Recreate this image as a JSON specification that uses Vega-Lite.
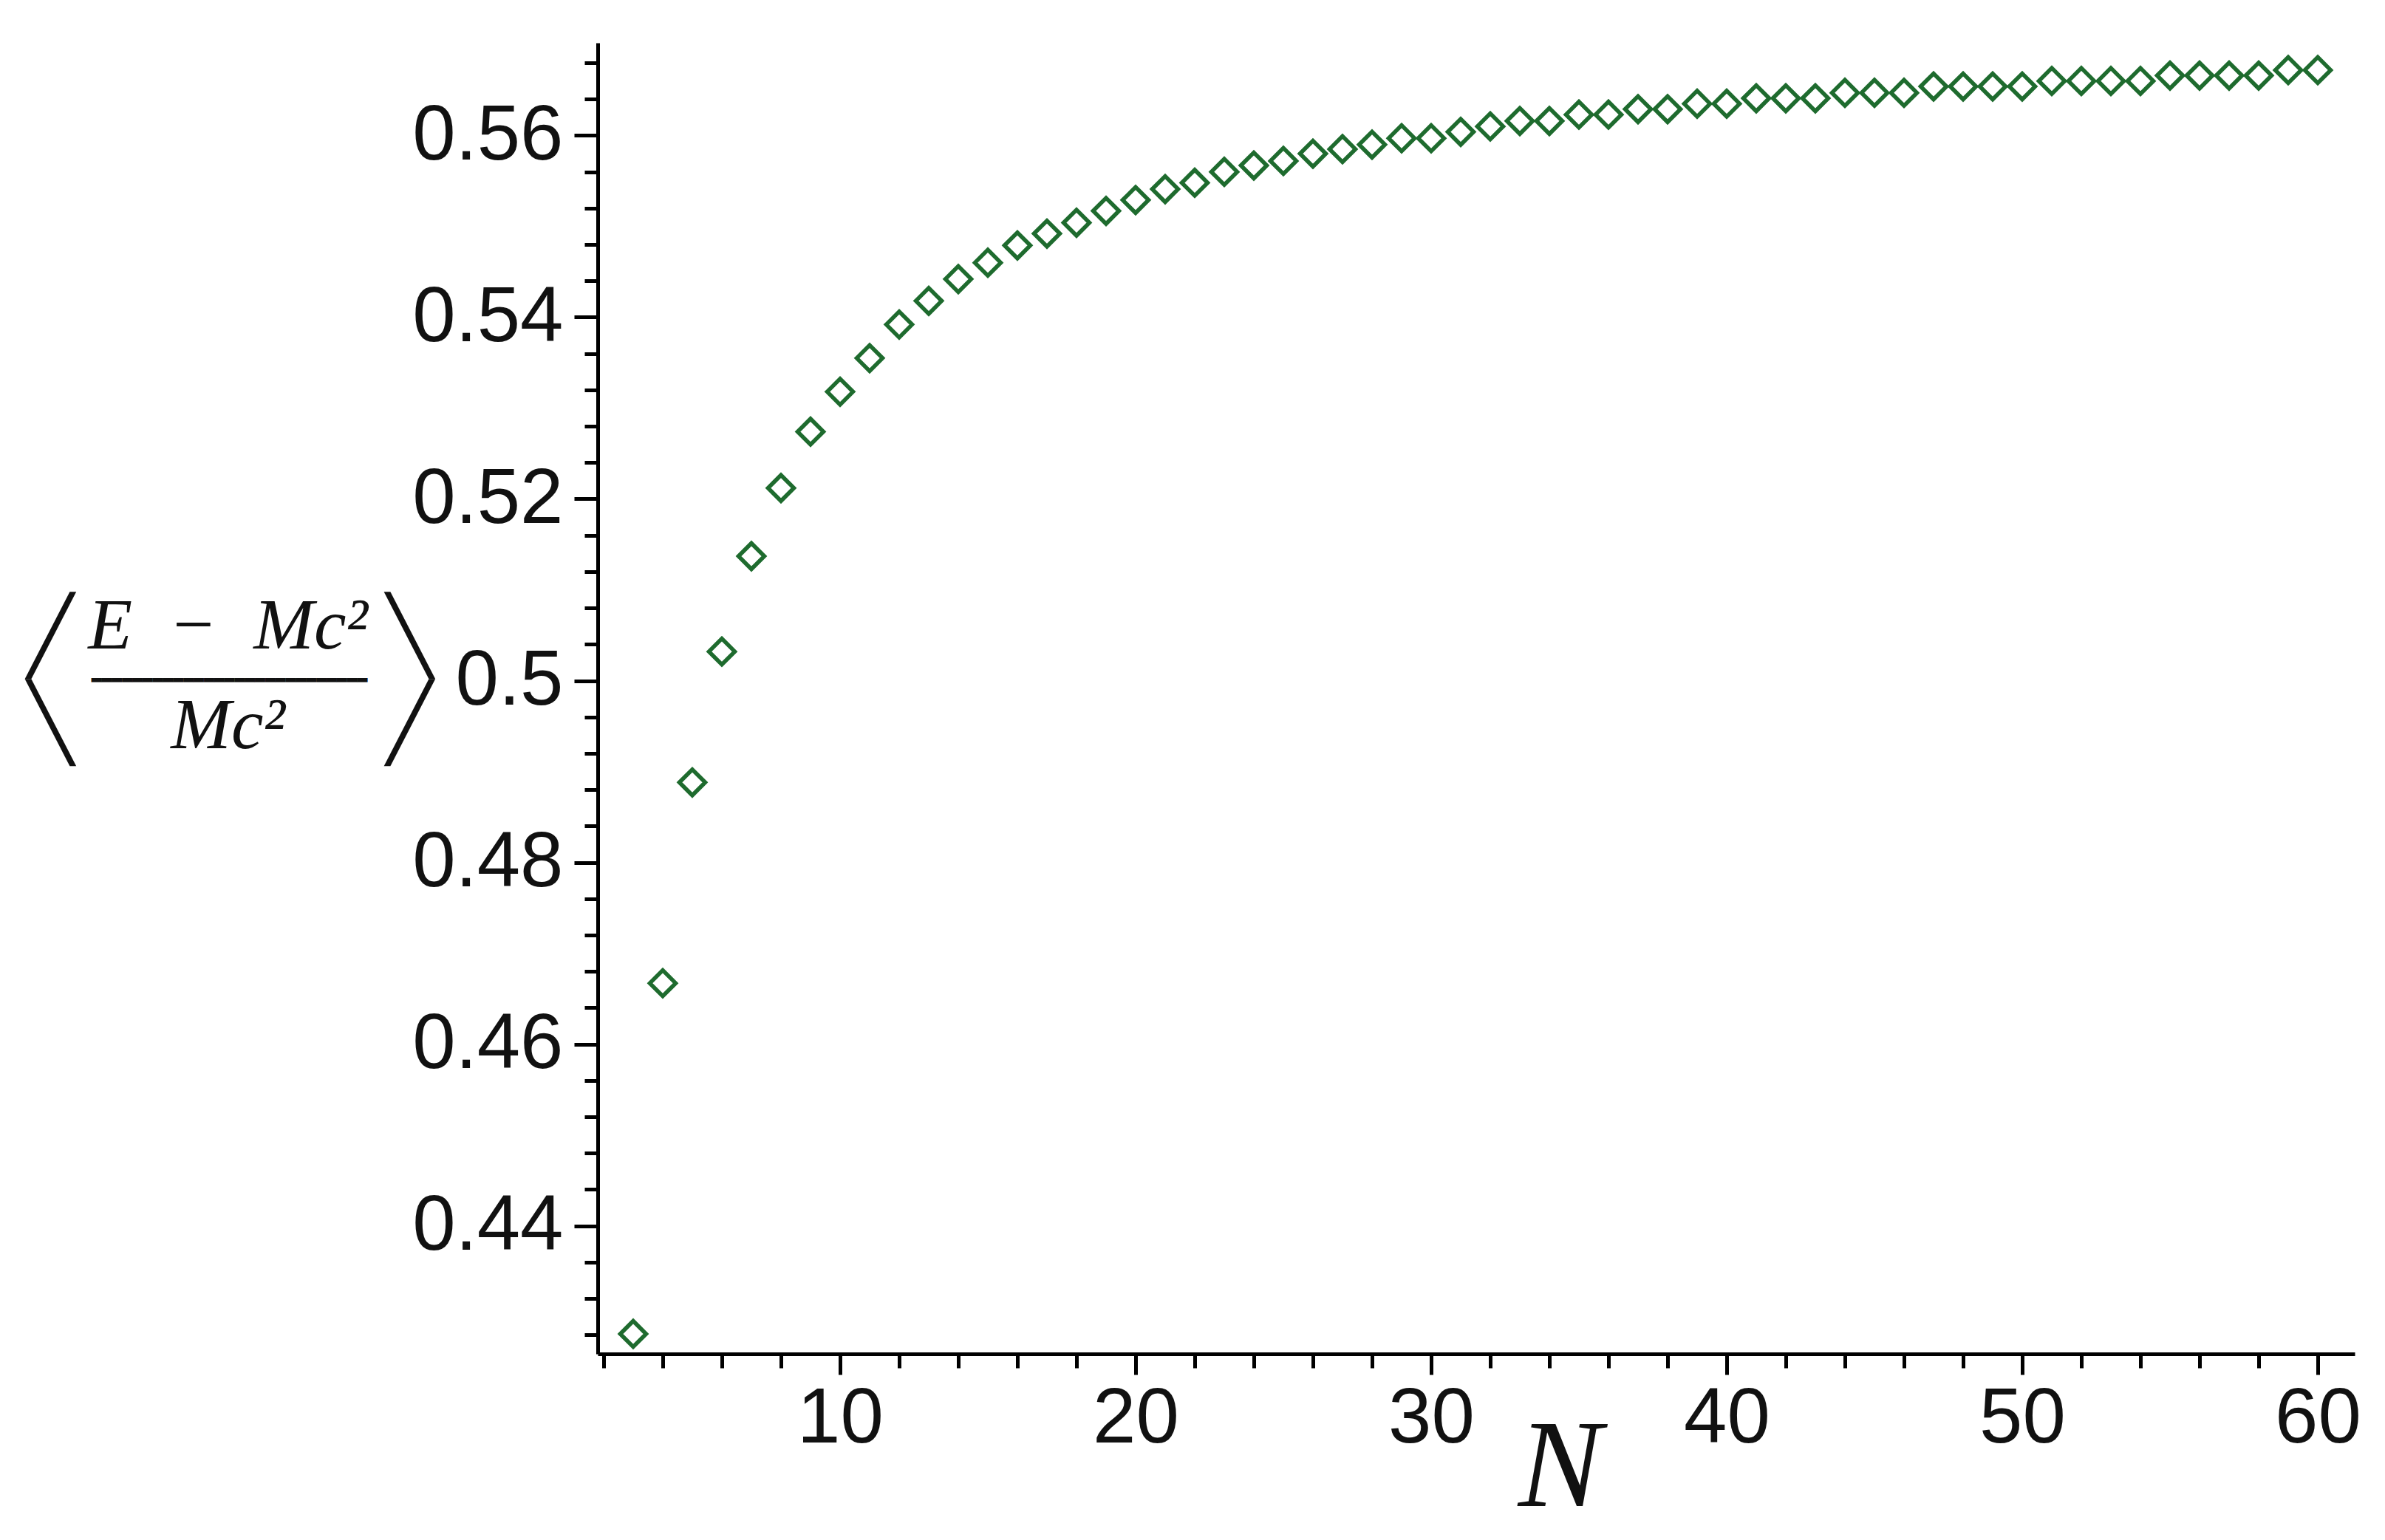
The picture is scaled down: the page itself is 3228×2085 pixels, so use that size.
{
  "$schema": "https://vega.github.io/schema/vega-lite/v6.json",
  "width": 2378,
  "height": 1775,
  "autosize": {"type": "none"},
  "padding": {"left": 809, "top": 58, "right": 41, "bottom": 252},
  "background": "white",
  "config": {"view": {"stroke": null}, "axis": {"grid": false}},
  "data": {"values": [
    {"N": 3, "v": 0.4281}, {"N": 4, "v": 0.4667}, {"N": 5, "v": 0.4888}, {"N": 6, "v": 0.5032},
    {"N": 7, "v": 0.5137}, {"N": 8, "v": 0.5212}, {"N": 9, "v": 0.5274}, {"N": 10, "v": 0.5318},
    {"N": 11, "v": 0.5355}, {"N": 12, "v": 0.5392}, {"N": 13, "v": 0.5418}, {"N": 14, "v": 0.5442},
    {"N": 15, "v": 0.5460}, {"N": 16, "v": 0.5479}, {"N": 17, "v": 0.5492}, {"N": 18, "v": 0.5504},
    {"N": 19, "v": 0.5517}, {"N": 20, "v": 0.5529}, {"N": 21, "v": 0.5541}, {"N": 22, "v": 0.5548},
    {"N": 23, "v": 0.5560}, {"N": 24, "v": 0.5567}, {"N": 25, "v": 0.5572}, {"N": 26, "v": 0.5580},
    {"N": 27, "v": 0.5585}, {"N": 28, "v": 0.5590}, {"N": 29, "v": 0.5597}, {"N": 30, "v": 0.5597},
    {"N": 31, "v": 0.5604}, {"N": 32, "v": 0.5610}, {"N": 33, "v": 0.5616}, {"N": 34, "v": 0.5616},
    {"N": 35, "v": 0.5623}, {"N": 36, "v": 0.5623}, {"N": 37, "v": 0.5629}, {"N": 38, "v": 0.5629},
    {"N": 39, "v": 0.5635}, {"N": 40, "v": 0.5635}, {"N": 41, "v": 0.5641}, {"N": 42, "v": 0.5641},
    {"N": 43, "v": 0.5641}, {"N": 44, "v": 0.5647}, {"N": 45, "v": 0.5647}, {"N": 46, "v": 0.5647},
    {"N": 47, "v": 0.5654}, {"N": 48, "v": 0.5654}, {"N": 49, "v": 0.5654}, {"N": 50, "v": 0.5654},
    {"N": 51, "v": 0.5660}, {"N": 52, "v": 0.5660}, {"N": 53, "v": 0.5660}, {"N": 54, "v": 0.5660},
    {"N": 55, "v": 0.5666}, {"N": 56, "v": 0.5666}, {"N": 57, "v": 0.5666}, {"N": 58, "v": 0.5666},
    {"N": 59, "v": 0.5672}, {"N": 60, "v": 0.5672}
  ]},
  "layer": [
    {
      "mark": {"type": "point", "shape": "diamond", "filled": false, "color": "#1e6b2e", "strokeWidth": 5.5, "size": 1225, "opacity": 1},
      "encoding": {
        "x": {
          "field": "N", "type": "quantitative",
          "scale": {"domain": [1.8, 61.25], "nice": false, "zero": false},
          "axis": {
            "values": [2, 4, 6, 8, 10, 12, 14, 16, 18, 20, 22, 24, 26, 28, 30, 32, 34, 36, 38, 40, 42, 44, 46, 48, 50, 52, 54, 56, 58, 60],
            "labelExpr": "datum.value % 10 === 0 ? format(datum.value, 'd') : ''",
            "tickSize": {"condition": {"test": "datum.value % 10 === 0", "value": 28}, "value": 19},
            "tickWidth": 5, "tickColor": "#000", "domainWidth": 5, "domainColor": "#000",
            "labelFont": "Liberation Sans", "labelFontSize": 105, "labelColor": "#111", "labelLimit": 600,
            "labelPadding": 8, "labelOverlap": false, "labelFlush": false,
            "title": "N", "titleFont": "Liberation Serif", "titleFontStyle": "italic", "titleFontWeight": "normal",
            "titleFontSize": 170, "titleColor": "#111", "titleAlign": "center", "titleBaseline": "alphabetic",
            "titleX": 1302, "titleY": 205
          }
        },
        "y": {
          "field": "v", "type": "quantitative",
          "scale": {"domain": [0.4259, 0.5702], "nice": false, "zero": false},
          "axis": {
            "orient": "left",
            "values": [0.428, 0.432, 0.436, 0.44, 0.444, 0.448, 0.452, 0.456, 0.46, 0.464, 0.468, 0.472, 0.476, 0.48, 0.484, 0.488, 0.492, 0.496, 0.5, 0.504, 0.508, 0.512, 0.516, 0.52, 0.524, 0.528, 0.532, 0.536, 0.54, 0.544, 0.548, 0.552, 0.556, 0.56, 0.564, 0.568],
            "labelExpr": "abs(datum.value * 50 - round(datum.value * 50)) < 0.01 ? format(datum.value, '.2~f') : ''",
            "tickSize": {"condition": {"test": "abs(datum.value * 50 - round(datum.value * 50)) < 0.01", "value": 32}, "value": 18},
            "tickWidth": 5, "tickColor": "#000", "domainWidth": 5, "domainColor": "#000",
            "labelFont": "Liberation Sans", "labelFontSize": 105, "labelColor": "#111", "labelLimit": 600,
            "labelPadding": 15, "labelOverlap": false, "labelFlush": false,
            "title": ["E\u2002\u2212\u2002Mc\u00b2", "Mc\u00b2"],
            "titleFont": "Liberation Serif", "titleFontStyle": "italic", "titleFontWeight": "normal",
            "titleFontSize": 98, "titleLineHeight": 135, "titleColor": "#111",
            "titleAngle": 0, "titleAlign": "center", "titleBaseline": "alphabetic",
            "titleX": -501, "titleY": 819
          }
        }
      }
    },
    {
      "mark": {"type": "point", "opacity": 0},
      "encoding": {
        "x": {"field": "N", "type": "quantitative"},
        "y": {
          "field": "v", "type": "quantitative",
          "axis": {
            "orient": "left", "title": "\u2582\u2582\u2582\u2582\u2582\u2582\u2582\u2582\u2582\u2582\u2582\u2582\u2582\u2582\u2582\u2582\u2582\u2582\u2582\u2582\u2582\u2582\u2582\u2582\u2582\u2582\u2582",
            "domain": false, "ticks": false, "labels": false, "grid": false,
            "titleFont": "DejaVu Sans", "titleFontWeight": "normal", "titleFontStyle": "normal",
            "titleFontSize": 18, "titleColor": "#111", "titleLimit": 2000,
            "titleAngle": 0, "titleAlign": "center", "titleBaseline": "alphabetic",
            "titleX": -499, "titleY": 860
          }
        }
      }
    },
    {
      "mark": {"type": "point", "opacity": 0},
      "encoding": {
        "x": {"field": "N", "type": "quantitative"},
        "y": {
          "field": "v", "type": "quantitative",
          "axis": {
            "orient": "left", "title": ["\u2571", "\u2572"],
            "domain": false, "ticks": false, "labels": false, "grid": false,
            "titleFont": "DejaVu Sans Mono", "titleFontWeight": "normal", "titleFontStyle": "normal",
            "titleFontSize": 101, "titleLineHeight": 118, "titleColor": "#111",
            "titleAngle": 0, "titleAlign": "center", "titleBaseline": "alphabetic",
            "titleX": -741, "titleY": 836
          }
        }
      }
    },
    {
      "mark": {"type": "point", "opacity": 0},
      "encoding": {
        "x": {"field": "N", "type": "quantitative"},
        "y": {
          "field": "v", "type": "quantitative",
          "axis": {
            "orient": "left", "title": ["\u2572", "\u2571"],
            "domain": false, "ticks": false, "labels": false, "grid": false,
            "titleFont": "DejaVu Sans Mono", "titleFontWeight": "normal", "titleFontStyle": "normal",
            "titleFontSize": 101, "titleLineHeight": 118, "titleColor": "#111",
            "titleAngle": 0, "titleAlign": "center", "titleBaseline": "alphabetic",
            "titleX": -255, "titleY": 836
          }
        }
      }
    }
  ],
  "resolve": {"axis": {"y": "independent"}}
}
